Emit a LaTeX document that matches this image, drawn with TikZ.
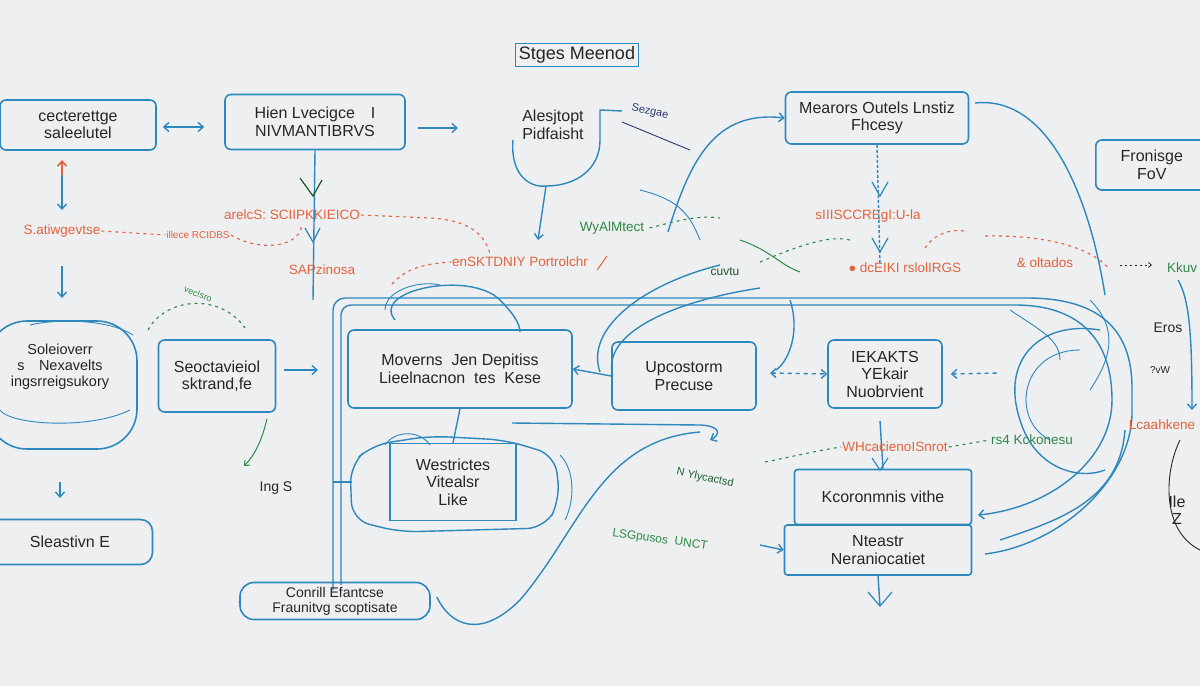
\documentclass[tikz,border=0pt]{standalone}
\usepackage{fontspec}
\setmainfont{Liberation Sans}
\usetikzlibrary{arrows.meta,calc}
\definecolor{bg}{HTML}{EDEFF1}
\definecolor{ln}{HTML}{2E88BC}
\definecolor{orr}{HTML}{E2633C}
\definecolor{grn}{HTML}{2F8A45}
\definecolor{tx}{HTML}{262626}
\definecolor{dblue}{HTML}{2B3A6B}
\begin{document}
\begin{tikzpicture}[x=1pt,y=-1pt,
  box/.style={draw=ln, line width=1.6pt, rounded corners=6pt, text=tx, align=center, font=\fontsize{16}{17.5}\selectfont, inner sep=3pt},
  plain/.style={text=tx, align=center, font=\fontsize{16}{17.5}\selectfont},
  lab/.style={text=orr, font=\fontsize{13.5}{14}\selectfont, inner sep=1pt},
  glab/.style={text=grn, font=\fontsize{13.5}{14}\selectfont, inner sep=1pt},
  con/.style={draw=ln, line width=1.4pt},
  thin/.style={draw=ln, line width=0.9pt},
  arr/.style={con, -{Straight Barb[length=5pt,width=9pt]}},
  odash/.style={draw=orr, line width=1.1pt, dash pattern=on 3pt off 4pt},
  gdash/.style={draw=grn, line width=1.1pt, dash pattern=on 3pt off 4pt},
  garr/.style={draw=grn, line width=1pt, -{Straight Barb[length=4pt,width=7pt]}},
]
\fill[bg] (0,0) rectangle (1200,686);
\useasboundingbox (0,0) rectangle (1200,686);

% ---------- title ----------
\node[text=tx, font=\fontsize{18}{19}\selectfont, inner sep=3pt] (title) at (577,55) {Stges Meenod};
\draw[draw=ln, line width=0.7pt] (title.north west) -- (title.north east);
\draw[draw=ln, line width=1.8pt] (title.south west) -- (title.south east);
\draw[draw=ln, line width=0.9pt] (title.north west) -- (title.south west);
\draw[draw=ln, line width=0.9pt] (title.north east) -- (title.south east);

% ---------- top row ----------
\node[box, minimum width=156pt, minimum height=50pt] (A) at (78,125) {cecterettge\\saleelutel};
\node[box, minimum width=180pt, minimum height=55pt] (B) at (315,122) {Hien Lvecigce\quad I\\NIVMANTIBRVS};
\node[plain] (alg) at (553,125) {Alesjtopt\\Pidfaisht};
\node[text=dblue, font=\fontsize{11}{12}\selectfont, rotate=-12] (sez) at (650,112) {Sezgae};
\node[box, minimum width=183pt, minimum height=52pt] (C) at (877,118) {Mearors Outels Lnstiz\\Fhcesy};
\node[box, minimum width=112pt, minimum height=50pt, anchor=west] (D) at (1095,165) {Fronisge\\FoV};

\draw[con, {Straight Barb[length=5pt,width=9pt]}-{Straight Barb[length=5pt,width=9pt]}] ($(A.east)+(6,2)$) coordinate (ab1) -- ($(B.west)+(-20,5)$) coordinate (ab2);
\coordinate (bo1) at (418,128);
\coordinate (bo2) at (458,128);
\draw[arr] (bo1) -- (bo2);

% wineglass shape
\coordinate (gl) at (513,140);
\coordinate (gb) at (546,186);
\coordinate (gr) at (600,140);
\coordinate (gt) at (600,110);
\coordinate (gs) at (538,240);
\draw[con] (gl) .. controls (510,175) and (530,188) .. (gb) .. controls (575,186) and (600,170) .. (gr) -- (gt) -- (622,111);
\draw[thin, draw=dblue] (622,122) -- (690,150);
\draw[arr] (gb) -- (gs);

% ---------- orange / green label band ----------
\node[lab] (s1) at (62,231) {S.atiwgevtse};
\node[lab, font=\fontsize{10}{11}\selectfont] (s2) at (198,235) {illece RCIDBS};
\draw[odash] (s1.east) -- (s2.west);
\node[lab] (s3) at (292,215) {arelcS: SCIIPKKIEICO};
\draw[odash] (s3.east) -- (430,218) .. controls (470,220) and (485,235) .. (490,254);
\draw[odash] (s2.east) .. controls (260,252) and (300,248) .. (302,224);
\node[lab] (s4) at (322,270) {SAPzinosa};
\node[lab] (s5) at (520,262) {enSKTDNIY Portrolchr};
\draw[odash] (392,284) .. controls (405,270) and (420,264) .. (s5.west);
\draw[draw=orr, line width=1pt] ($(s5.east)+(8,8)$) -- ++(10,-14);
\node[glab] (wy) at (612,228) {WyAlMtect};
\node[text=grn!60!black, font=\fontsize{12}{13}\selectfont] (cu) at (725,272) {cuvtu};
\draw[gdash] ($(wy.east)+(4,0)$) .. controls (680,220) and (700,215) .. (720,218);
\draw[draw=grn, line width=1pt] (740,240) .. controls (770,250) and (780,265) .. (800,272);
\node[lab] (s6) at (868,216) {sIIISCCREgI:U-la};
\node[lab] (s7) at (905,268) {$\bullet$\ dcEIKI rslolIRGS};
\node[lab] (s8) at (1045,263) {\& oltados};
\draw[odash] (925,248) .. controls (935,232) and (955,228) .. (968,232);
\draw[odash] (985,236) .. controls (1040,235) and (1090,245) .. (1110,270);
\draw[gdash] (760,262) .. controls (800,245) and (830,235) .. (850,240);
\node[glab] (kk) at (1182,268) {Kkuv};
\draw[draw=tx, line width=0.8pt, dash pattern=on 2pt off 3pt, -{Straight Barb[length=3pt,width=5pt]}] (1120,265) -- (1152,265);

% vertical connectors from top row
\coordinate (bv) at (313,300);
\draw[con] (B.south) -- (bv);
\draw[draw=grn!60!black, line width=1.2pt] (300,178) -- (313,196) -- (322,180);
\draw[draw=ln, line width=1.2pt] (305,228) -- (313,242) -- (320,228);
\coordinate (cv) at (880,265);
\draw[con, dash pattern=on 3pt off 2pt] (C.south) -- (cv);
\draw[draw=ln, line width=1.2pt] (872,182) -- (880,196) -- (888,182);
\draw[draw=ln, line width=1.2pt] (872,238) -- (880,252) -- (888,238);

% curve to C
\draw[arr] (668,232) .. controls (690,160) and (715,110) .. (C.west);
\draw[thin] (640,190) .. controls (680,200) and (690,215) .. (700,240);

% left column arrows
\coordinate (l1) at (62,160);
\coordinate (l2) at (62,210);
\draw[con, -{Straight Barb[length=5pt,width=9pt]}] (62,172) -- (l2);
\draw[draw=orr, line width=1.6pt, -{Straight Barb[length=5pt,width=9pt]}] (62,175) -- (l1);
\coordinate (l3) at (62,266);
\coordinate (l4) at (62,298);
\draw[arr] (l3) -- (l4);

% ---------- left middle ----------
\node[box, rounded corners=40pt, minimum width=150pt, minimum height=128pt] (E) at (62,385) {};
\node[plain, font=\fontsize{14.5}{16}\selectfont] (Et) at (60,367) {Soleioverr\\s\quad Nexavelts\\ingsrreigsukory};
\draw[thin] (0,410) .. controls (10,425) and (90,430) .. (130,410);
\draw[thin] (30,325) .. controls (60,318) and (110,320) .. (133,335);
\node[box, minimum width=117pt, minimum height=72pt] (F) at (217,376) {Seoctavieiol\\sktrand,fe};
\draw[gdash] (148,330) .. controls (165,298) and (220,292) .. (245,328);
\node[glab, font=\fontsize{9}{10}\selectfont, rotate=-20] at (198,294) {vec!sro};
\coordinate (fr) at (318,370);
\draw[arr] ($(F.east)+(8,-6)$) -- (fr);
\coordinate (fg) at (244,466);
\draw[garr] ($(F.south)+(50,6)$) .. controls (262,440) and (255,455) .. (fg);
\node[plain, font=\fontsize{14}{15}\selectfont] (ing) at (276,488) {Ing S};
\coordinate (e1) at (60,482);
\coordinate (e2) at (60,498);
\draw[arr] (e1) -- (e2);
\node[box, rounded corners=12pt, minimum width=165pt, minimum height=45pt] (G) at (70,542) {Sleastivn E};

% ---------- big frame ----------
\draw[con, rounded corners=12pt] (333,590) -- (333,298) -- (1015,298) .. controls (1100,298) and (1132,330) .. (1132,400) .. controls (1132,480) and (1060,545) .. (985,554);
\draw[con, rounded corners=10pt] (341,585) -- (341,305) -- (1005,305) .. controls (1080,305) and (1112,340) .. (1112,400);
\draw[arr] (1112,400) .. controls (1112,460) and (1050,508) .. (978,515);

% middle boxes
\node[box, minimum width=224pt, minimum height=78pt] (H) at (460,369) {Moverns\ \ Jen Depitiss\\Lieelnacnon\ \ tes\ \ Kese};
\node[box, minimum width=144pt, minimum height=68pt] (I) at (684,376) {Upcostorm\\Precuse};
\node[box, minimum width=114pt, minimum height=68pt] (J) at (885,374) {IEKAKTS\\YEkair\\Nuobrvient};
\draw[arr] (I.west) -- (H.east);
\draw[con, dash pattern=on 4pt off 4pt, {Straight Barb[length=5pt,width=9pt]}-{Straight Barb[length=5pt,width=9pt]}] (770,373) -- (J.west);
\draw[con, dash pattern=on 4pt off 4pt, {Straight Barb[length=5pt,width=9pt]}-] ($(J.east)+(8,0)$) -- (1000,373);

% loops above H and I
\draw[con] (395,320) .. controls (370,290) and (470,270) .. (500,300) .. controls (515,315) and (520,325) .. (520,332);
\draw[thin] (385,310) .. controls (385,290) and (420,280) .. (440,285);
\draw[con] (600,372) .. controls (585,330) and (640,285) .. (720,265);
\draw[con] (612,372) .. controls (605,330) and (680,300) .. (760,288);
\draw[con] (790,300) .. controls (800,330) and (790,360) .. (776,370);
\draw[thin] (1010,310) .. controls (1040,330) and (1060,340) .. (1060,360);

% K cloud
\node[box, rounded corners=0pt, minimum width=126pt, minimum height=77pt] (K) at (453,482) {Westrictes\\Vitealsr\\Like};
\draw[con, rounded corners=18pt] (372,445) -- (350,465) -- (352,520) -- (400,532) -- (545,528) -- (560,500) -- (555,455) -- (505,440) -- (430,436) -- cycle;
\draw[thin] (385,445) .. controls (395,430) and (420,430) .. (430,445);
\draw[thin] (560,455) .. controls (575,470) and (575,500) .. (565,520);
\coordinate (kl) at (333,482);
\draw[con] (kl) -- (352,482);
\draw[con] (H.south) -- (K.north);

% S-curve from M and hook
\node[box, rounded corners=14pt, font=\fontsize{14}{15}\selectfont, minimum width=190pt, minimum height=37pt] (M) at (335,601) {Conrill Efantcse\\Fraunitvg scoptisate};
\coordinate (hk) at (710,440);
\draw[con] ($(M.east)+(6,-4)$) .. controls (450,625) and (480,640) .. (520,600) .. controls (580,530) and (600,440) .. (700,432);
\draw[arr] (512,423) -- (700,425) .. controls (722,426) and (720,435) .. (hk);
\draw[con] (240,605) -- (M.west);

% right-middle lower boxes
\node[box, rounded corners=3pt, minimum width=177pt, minimum height=55pt] (L1) at (883,497) {Kcoronmnis vithe};
\node[box, rounded corners=3pt, minimum width=187pt, minimum height=50pt] (L2) at (878,550) {Nteastr\\Neraniocatiet};
\draw[con] ($(J.south)+(-5,12)$) -- (L1.north);
\draw[draw=ln, line width=1.2pt] (872,458) -- (880,470) -- (888,458);
\coordinate (lb) at (880,606);
\draw[con] (L2.south) -- (lb);
\draw[draw=ln, line width=1.2pt] (868,592) -- (880,606) -- (892,592);
\coordinate (lw) at (760,545);
\draw[arr] (lw) -- (L2.west);
\node[glab, font=\fontsize{12}{13}\selectfont, rotate=-8] (ls) at (660,540) {LSGpusos\ \ UNCT};
\node[glab, text=grn!70!black, font=\fontsize{11}{12}\selectfont, rotate=-12] (ny) at (705,478) {N Ylycactsd};
\node[lab] (w1) at (895,447) {WHcacienoISnrot};
\draw[gdash] (765,462) .. controls (800,455) and (820,450) .. (w1.west);
\node[glab] (w2) at (1032,440) {rs4 Kckonesu};
\draw[gdash] (w1.east) -- (w2.west);

% right area curves
\draw[con] (1100,330) .. controls (1040,320) and (1000,360) .. (1020,420) .. controls (1035,470) and (1080,480) .. (1105,470);
\draw[thin] (1080,350) .. controls (1020,350) and (1010,420) .. (1050,440);
\draw[con] (1125,430) .. controls (1120,500) and (1060,520) .. (1000,540);
\draw[thin] (1090,300) .. controls (1120,330) and (1110,360) .. (1090,390);
\draw[con] (975,103) .. controls (1050,95) and (1090,200) .. (1105,295);

% far right column
\coordinate (r1) at (1178,280);
\coordinate (r2) at (1192,410);
\draw[arr] (r1) .. controls (1190,300) and (1192,340) .. (r2);
\node[plain, font=\fontsize{14}{15}\selectfont] (eros) at (1168,328) {Eros};
\node[plain, font=\fontsize{10}{11}\selectfont] (vw) at (1160,370) {?vW};
\node[lab] (lc) at (1162,425) {Lcaahkene};
\draw[thin, draw=tx] (1180,440) .. controls (1165,470) and (1160,530) .. (1200,550);
\node[plain, anchor=west] (ile) at (1165,510) {Ile\\Z};
\end{tikzpicture}
\end{document}
